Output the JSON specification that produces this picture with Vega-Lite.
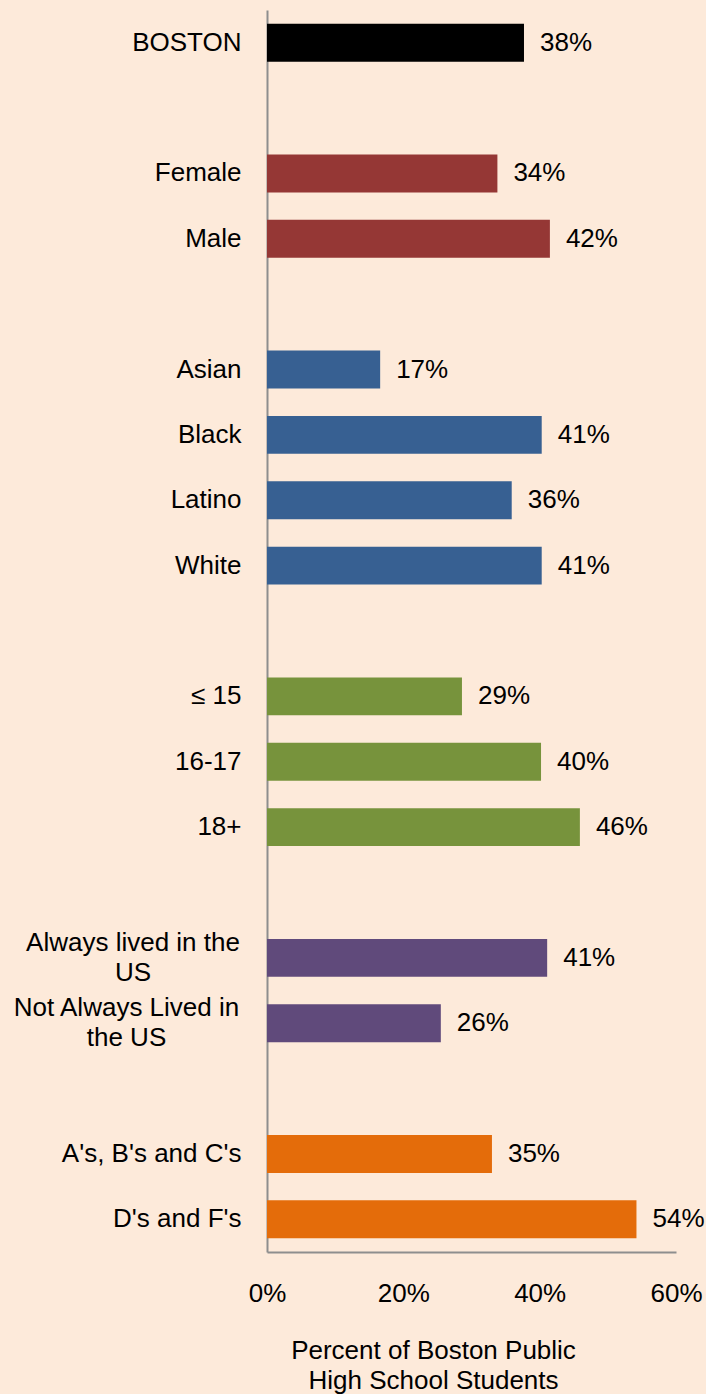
{
  "$schema": "https://vega.github.io/schema/vega-lite/v6.json",
  "width": 409,
  "height": 1242,
  "autosize": {"type": "none"},
  "padding": {"left": 267, "top": 10, "right": 30, "bottom": 142},
  "background": "#FDEADA",
  "config": {"view": {"stroke": null}, "font": "Liberation Sans"},
  "data": {"values": [
    {"category": "BOSTON", "value": 0.377, "label": "38%", "group": "All"},
    {"category": "Female", "value": 0.338, "label": "34%", "group": "Gender"},
    {"category": "Male", "value": 0.415, "label": "42%", "group": "Gender"},
    {"category": "Asian", "value": 0.166, "label": "17%", "group": "Race"},
    {"category": "Black", "value": 0.403, "label": "41%", "group": "Race"},
    {"category": "Latino", "value": 0.359, "label": "36%", "group": "Race"},
    {"category": "White", "value": 0.403, "label": "41%", "group": "Race"},
    {"category": "≤ 15", "value": 0.286, "label": "29%", "group": "Age"},
    {"category": "16-17", "value": 0.402, "label": "40%", "group": "Age"},
    {"category": "18+", "value": 0.459, "label": "46%", "group": "Age"},
    {"category": "Always lived in the US", "value": 0.411, "label": "41%", "group": "Nativity"},
    {"category": "Not Always Lived in the US", "value": 0.255, "label": "26%", "group": "Nativity"},
    {"category": "A's, B's and C's", "value": 0.330, "label": "35%", "group": "Grades"},
    {"category": "D's and F's", "value": 0.542, "label": "54%", "group": "Grades"}
  ]},
  "encoding": {
    "y": {
      "field": "category",
      "type": "nominal",
      "sort": null,
      "title": null,
      "scale": {
        "domain": ["BOSTON", "sp1", "Female", "Male", "sp2", "Asian", "Black", "Latino", "White", "sp3", "≤ 15", "16-17", "18+", "sp4", "Always lived in the US", "Not Always Lived in the US", "sp5", "A's, B's and C's", "D's and F's"],
        "paddingInner": 0.42,
        "paddingOuter": 0.21
      },
      "axis": {
        "ticks": false,
        "tickSize": 0,
        "grid": false,
        "domain": true,
        "domainColor": "#8E8E8E",
        "domainWidth": 2,
        "labelFont": "Liberation Sans",
        "labelFontSize": 26,
        "labelColor": "#000000",
        "labelLineHeight": 30,
        "labelLimit": 400,
        "labelBaseline": "middle",
        "labelExpr": "datum.value == 'Always lived in the US' ? ['Always lived in the', 'US'] : datum.value == 'Not Always Lived in the US' ? ['Not Always Lived in', 'the US'] : indexof(datum.value, 'sp') == 0 ? '' : datum.value",
        "labelAlign": {"condition": {"test": "indexof(datum.value, 'Always') >= 0", "value": "center"}, "value": "right"},
        "labelOffset": {"condition": {"test": "indexof(datum.value, 'Always') >= 0", "value": -15}, "value": 0},
        "labelPadding": {"condition": [
          {"test": "datum.value == 'Always lived in the US'", "value": 134.5},
          {"test": "datum.value == 'Not Always Lived in the US'", "value": 141}
        ], "value": 26}
      }
    },
    "x": {
      "field": "value",
      "type": "quantitative",
      "scale": {"domain": [0, 0.6], "nice": false},
      "axis": {
        "values": [0, 0.2, 0.4, 0.6],
        "format": ".0%",
        "ticks": false,
        "tickSize": 0,
        "grid": false,
        "domain": true,
        "domainColor": "#8E8E8E",
        "domainWidth": 2,
        "labelFont": "Liberation Sans",
        "labelFontSize": 26,
        "labelColor": "#000000",
        "labelBaseline": "middle",
        "labelPadding": 41,
        "labelFlush": false,
        "title": ["Percent of Boston Public", "High School Students"],
        "titleFont": "Liberation Sans",
        "titleFontSize": 26,
        "titleFontWeight": "normal",
        "titleColor": "#000000",
        "titleLineHeight": 30,
        "titleBaseline": "middle",
        "titleAlign": "center",
        "titleAnchor": "start",
        "titleX": 166,
        "titleY": 98.5
      }
    }
  },
  "layer": [
    {
      "mark": {"type": "bar"},
      "encoding": {
        "color": {
          "field": "group",
          "type": "nominal",
          "legend": null,
          "scale": {
            "domain": ["All", "Gender", "Race", "Age", "Nativity", "Grades"],
            "range": ["#000000", "#953735", "#376092", "#77933C", "#604A7B", "#E46C0A"]
          }
        }
      }
    },
    {
      "mark": {"type": "text", "align": "left", "baseline": "middle", "dx": 16, "fontSize": 26, "font": "Liberation Sans", "color": "#000000"},
      "encoding": {"text": {"field": "label"}}
    }
  ]
}
